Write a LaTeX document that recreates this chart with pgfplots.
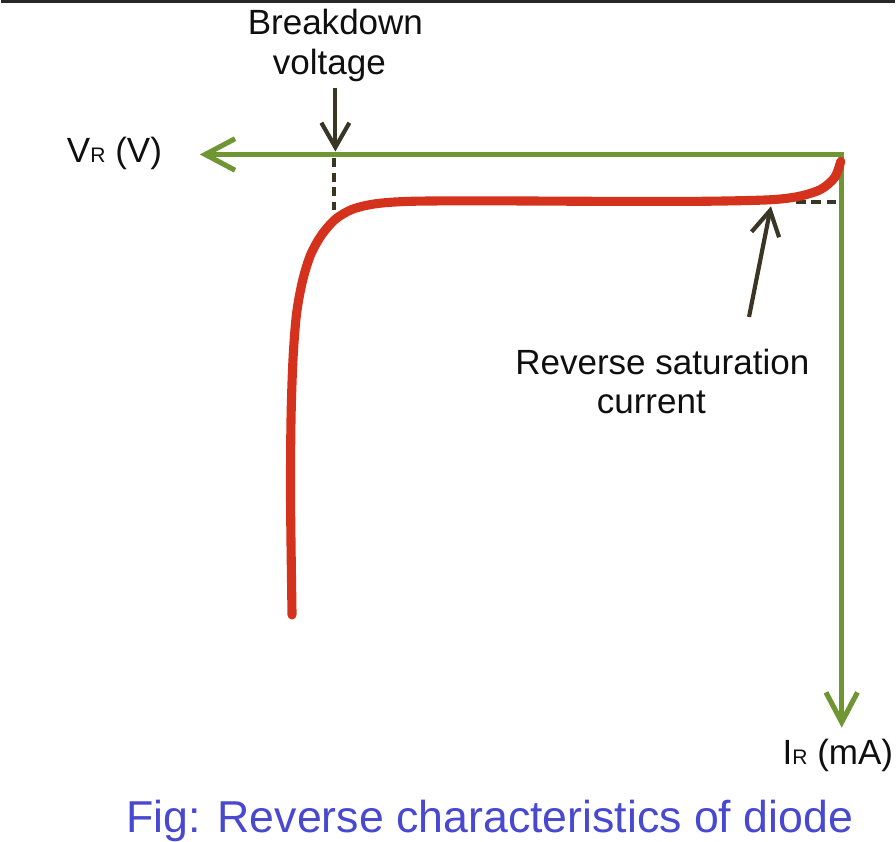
\documentclass[border=0pt]{standalone}
\usepackage{pgfplots}
\pgfplotsset{compat=1.18}
\usepackage{fontspec}
\setmainfont{Liberation Sans}
\usetikzlibrary{arrows.meta}
\definecolor{axgreen}{RGB}{112,150,52}
\definecolor{curvered}{RGB}{212,50,28}
\definecolor{darkarrow}{RGB}{58,54,38}
\definecolor{captionblue}{RGB}{72,72,208}
\definecolor{txt}{RGB}{15,15,15}
\begin{document}
\begin{tikzpicture}
\begin{axis}[
  width=8.96cm, height=8.84cm, scale only axis, hide axis,
  xmin=0, xmax=896, ymin=0, ymax=884, y dir=reverse, clip=false,
]
% top border
\addplot[color={rgb,255:red,40;green,40;blue,40}, line width=0.85pt] coordinates {(0,1.5) (896,1.5)};
% axes
\addplot[axgreen, line width=1.45pt, line join=miter,
  {Straight Barb[length=8.5pt,width=9pt,line width=1.45pt]}-{Straight Barb[length=8.5pt,width=9pt,line width=1.45pt]}]
  coordinates {(199,155) (843,155) (843,730)};
% dashed guides
\addplot[darkarrow, line width=1.1pt, dash pattern=on 2.5pt off 1.6pt] coordinates {(334,159) (334,216)};
\addplot[darkarrow, line width=1.1pt, dash pattern=on 2.8pt off 1.6pt] coordinates {(797,203) (843,203)};
% curve
\addplot[curvered, line width=2.6pt, smooth, line cap=round, tension=0.5] coordinates {
 (842,162) (836,178) (822,190) (800,197) (770,200.5) (700,202) (600,202) (480,201.5)
 (410,202) (375,204.5) (352,210) (335,220) (321,236) (310,256) (302,282) (296,315)
 (292.5,360) (290.5,420) (290,500) (291.5,617)};
% annotation arrows
\addplot[darkarrow, line width=1.2pt, -{Straight Barb[length=7pt,width=8pt,line width=1.2pt]}] coordinates {(335,88) (335,152)};
\addplot[darkarrow, line width=1.2pt, -{Straight Barb[length=7pt,width=8pt,line width=1.2pt]}] coordinates {(750,318) (772,207)};
% labels
\node[anchor=base, txt, font=\fontsize{10}{12}\selectfont, inner sep=0pt] at (axis cs:335,35) {Breakdown};
\node[anchor=base, txt, font=\fontsize{10}{12}\selectfont, inner sep=0pt] at (axis cs:329,75) {voltage};
\node[anchor=base west, txt, font=\fontsize{10}{12}\selectfont, inner sep=0pt] at (axis cs:65,163) {V{\fontsize{6}{7}\selectfont R} (V)};
\node[anchor=base west, txt, font=\fontsize{10}{12}\selectfont, inner sep=0pt] at (axis cs:783,767) {I{\fontsize{6}{7}\selectfont R} (mA)};
\node[anchor=base, txt, font=\fontsize{10}{12}\selectfont, inner sep=0pt] at (axis cs:663,376) {Reverse saturation};
\node[anchor=base, txt, font=\fontsize{10}{12}\selectfont, inner sep=0pt] at (axis cs:652,415) {current};
\node[anchor=base, captionblue, font=\fontsize{12.75}{15}\selectfont, inner sep=0pt] at (axis cs:490,835) {Fig: Reverse characteristics of diode};
\end{axis}
\end{tikzpicture}
\end{document}
